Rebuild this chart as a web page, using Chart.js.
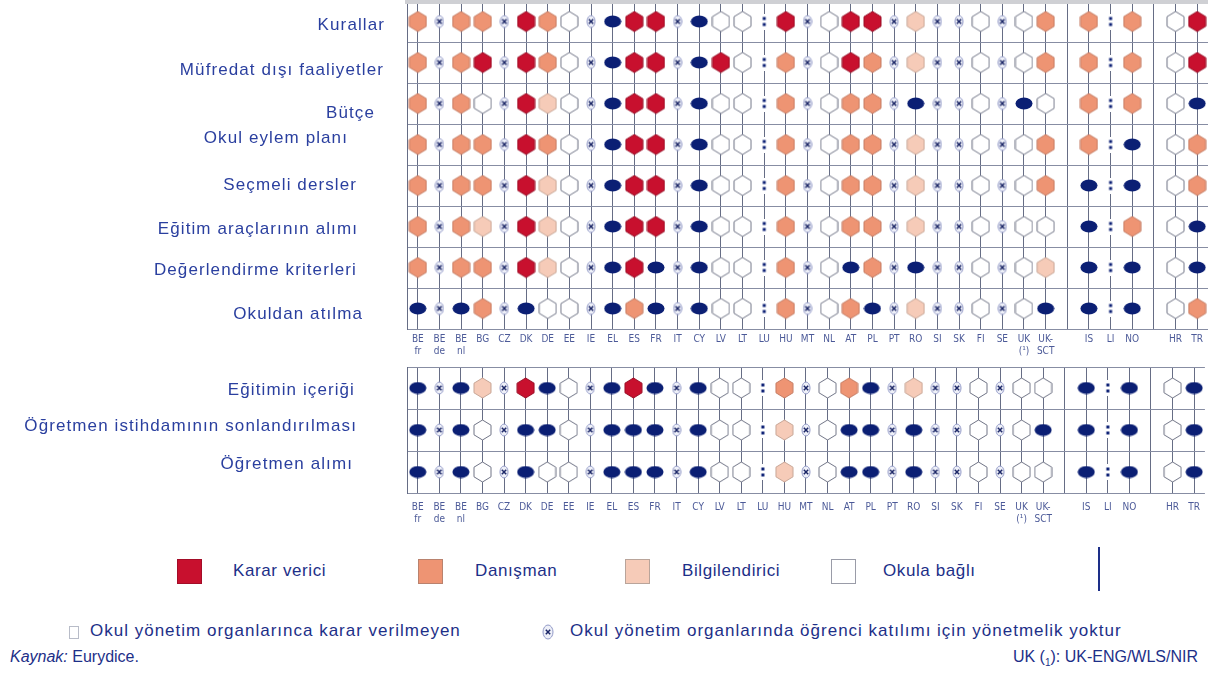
<!DOCTYPE html>
<html lang="tr">
<head>
<meta charset="utf-8">
<script src="https://cdn.jsdelivr.net/npm/chart.js@4.4.1/dist/chart.umd.min.js"></script>
<style>
  body { margin: 0; width: 1208px; height: 680px; background: #fff; position: relative; overflow: hidden;
         font-family: 'Liberation Sans', Arial, sans-serif; color: #1d2f88; }
  canvas { position: absolute; left: 0; }
  #topChart { top: 0; }
  #bottomChart { top: 360px; }
  .band { position: absolute; left: 405px; top: 0; width: 803px; height: 4px; background: #cfd0d4; }
  .sq { position: absolute; top: 559px; width: 25px; height: 25px; box-sizing: border-box; border: 1px solid #999; }
  .txt { position: absolute; font-size: 17px; line-height: 20px; white-space: nowrap; }
  .lg { letter-spacing: 0.6px; }
  .note { letter-spacing: 1px; }
</style>
</head>
<body>
<canvas id="topChart" width="1208" height="360"></canvas>
<canvas id="bottomChart" width="1208" height="175"></canvas>
<div class="band"></div>

<div class="sq" style="left:177px;background:#c8102e;border-color:#a30d28"></div>
<div class="txt lg" style="left:233px;top:561px">Karar verici</div>
<div class="sq" style="left:418px;background:#ee9473;border-color:#b9826e"></div>
<div class="txt lg" style="left:475px;top:561px">Danışman</div>
<div class="sq" style="left:625px;background:#f6cbb8;border-color:#b9a49a"></div>
<div class="txt lg" style="left:682px;top:561px">Bilgilendirici</div>
<div class="sq" style="left:831px;background:#fff;border-color:#9a9ca8"></div>
<div class="txt lg" style="left:883px;top:561px">Okula bağlı</div>
<div style="position:absolute;left:1098px;top:547px;width:2px;height:44px;background:#1d2f88"></div>

<div style="position:absolute;left:69px;top:626px;width:8px;height:11px;border:1px solid #b8bcc8"></div>
<div class="txt note" style="left:90px;top:621px">Okul yönetim organlarınca karar verilmeyen</div>
<canvas id="xIcon" width="12" height="16" style="left:542px;top:624px"></canvas>
<div class="txt note" style="left:570px;top:621px">Okul yönetim organlarında öğrenci katılımı için yönetmelik yoktur</div>

<div class="txt" style="left:10px;top:647px;font-size:16px"><i>Kaynak:</i> Eurydice.</div>
<div class="txt" style="right:10px;top:647px;font-size:16px">UK (<sub style="font-size:10px">1</sub>): UK-ENG/WLS/NIR</div>

<script>
// ülke sütunları (boş olanlar grup aralıkları)
const xTicks = ['BE\nfr', 'BE\nde', 'BE\nnl', 'BG', 'CZ', 'DK', 'DE', 'EE', 'IE', 'EL', 'ES', 'FR',
  'IT', 'CY', 'LV', 'LT', 'LU', 'HU', 'MT', 'NL', 'AT', 'PL', 'PT', 'RO', 'SI', 'SK', 'FI', 'SE',
  'UK\n(¹)', 'UK-\nSCT', '', 'IS', 'LI', 'NO', ' ', 'HR', 'TR'];

const topRows = ['Kurallar', 'Müfredat dışı faaliyetler', 'Bütçe', 'Okul eylem planı',
  'Seçmeli dersler', 'Eğitim araçlarının alımı', 'Değerlendirme kriterleri', 'Okuldan atılma'];
const bottomRows = ['Eğitimin içeriği', 'Öğretmen istihdamının sonlandırılması', 'Öğretmen alımı'];

// D karar verici, C danışman, I bilgilendirici, S okula bağlı,
// N karar verilmeyen, X yönetmelik yok, : veri yok, - boşluk
const kurallar      = ['C','X','C','C','X','D','C','S','X','N','D','D','X','N','S','S',':','D','X','S','D','D','X','I','X','X','S','X','S','C','-','C',':','C','-','S','D'];
const mufredatDisi  = ['C','X','C','D','X','D','C','S','X','N','D','D','X','N','D','S',':','C','X','S','D','C','X','I','X','X','S','X','S','C','-','C',':','C','-','S','D'];
const butce         = ['C','X','C','S','X','D','I','S','X','N','D','D','X','N','S','S',':','C','X','S','C','C','X','N','X','X','S','X','N','S','-','C',':','C','-','S','N'];
const eylemPlani    = ['C','X','C','C','X','D','C','S','X','N','D','D','X','N','S','S',':','C','X','S','C','C','X','I','X','X','S','X','S','C','-','C',':','N','-','S','C'];
const secmeli       = ['C','X','C','C','X','D','I','S','X','N','D','D','X','N','S','S',':','C','X','S','C','C','X','I','X','X','S','X','S','C','-','N',':','N','-','S','C'];
const aracAlimi     = ['C','X','C','I','X','D','I','S','X','N','D','D','X','N','S','S',':','C','X','S','C','C','X','I','X','X','S','X','S','S','-','N',':','C','-','S','N'];
const degerlendirme = ['C','X','C','C','X','D','I','S','X','N','D','N','X','N','S','S',':','C','X','S','N','C','X','N','X','X','S','X','S','I','-','N',':','N','-','S','N'];
const okuldanAtilma = ['N','X','N','C','X','N','S','S','X','N','C','N','X','N','S','S',':','C','X','S','C','N','X','I','X','X','S','X','S','N','-','N',':','N','-','S','C'];

const icerik        = ['N','X','N','I','X','D','N','S','X','N','D','N','X','N','S','S',':','C','X','S','C','N','X','I','X','X','S','X','S','S','-','N',':','N','-','S','N'];
const istihdamSonu  = ['N','X','N','S','X','N','N','S','X','N','N','N','X','N','S','S',':','I','X','S','N','N','X','N','X','X','S','X','S','N','-','N',':','N','-','S','N'];
const ogretmenAlimi = ['N','X','N','S','X','N','S','S','X','N','N','N','X','N','S','S',':','I','X','S','N','N','X','N','X','X','S','X','S','S','-','N',':','N','-','S','N'];

const topData = [kurallar, mufredatDisi, butce, eylemPlani, secmeli, aracAlimi, degerlendirme, okuldanAtilma];
const bottomData = [icerik, istihdamSonu, ogretmenAlimi];

const NAVY = '#0b1f74';

function hexIcon(fill, stroke) {
    const c = document.createElement('canvas');
    c.width = 19; c.height = 22;
    const g = c.getContext('2d');
    const w = 17, h = 20, o = 1;
    g.beginPath();
    g.moveTo(o + w / 2, o);
    g.lineTo(o + w, o + h * 0.26);
    g.lineTo(o + w, o + h * 0.74);
    g.lineTo(o + w / 2, o + h);
    g.lineTo(o, o + h * 0.74);
    g.lineTo(o, o + h * 0.26);
    g.closePath();
    g.fillStyle = fill;
    g.fill();
    g.lineWidth = 1;
    g.lineJoin = 'round';
    g.strokeStyle = stroke;
    g.stroke();
    return c;
}

function ovalIcon() {
    const c = document.createElement('canvas');
    c.width = 18; c.height = 13;
    const g = c.getContext('2d');
    g.beginPath();
    g.ellipse(9, 6.5, 8.5, 6, 0, 0, Math.PI * 2);
    g.fillStyle = NAVY;
    g.fill();
    return c;
}

function drawCross(c) {
    const g = c.getContext('2d');
    const cx = c.width / 2, cy = c.height / 2;
    g.beginPath();
    g.ellipse(cx, cy, cx - 1, cy - 1, 0, 0, Math.PI * 2);
    g.fillStyle = '#eef0f8';
    g.fill();
    g.strokeStyle = '#9098c6';
    g.lineWidth = 1;
    g.stroke();
    g.beginPath();
    g.moveTo(cx - 2.2, cy - 2.2); g.lineTo(cx + 2.2, cy + 2.2);
    g.moveTo(cx + 2.2, cy - 2.2); g.lineTo(cx - 2.2, cy + 2.2);
    g.strokeStyle = '#1a2566';
    g.lineWidth = 1.5;
    g.stroke();
    return c;
}

function crossIcon() {
    const c = document.createElement('canvas');
    c.width = 10; c.height = 14;
    return drawCross(c);
}

function colonIcon() {
    const c = document.createElement('canvas');
    c.width = 6; c.height = 16;
    const g = c.getContext('2d');
    g.fillStyle = '#fff';
    g.fillRect(0, 0, 6, 16);
    g.fillStyle = NAVY;
    g.fillRect(1.5, 3.5, 3, 3);
    g.fillRect(1.5, 9.5, 3, 3);
    return c;
}

const symbols = {
    'S': hexIcon('#ffffff', '#707486'),
    'I': hexIcon('#f6cbb8', '#c7a595'),
    'C': hexIcon('#ee9473', '#c47b62'),
    'D': hexIcon('#c8102e', '#980c24'),
    'N': ovalIcon(),
    'X': crossIcon(),
    ':': colonIcon()
};

function buildDatasets(rows, rowLabels) {
    return Object.keys(symbols).map(code => ({
        label: code,
        data: rows.flatMap((r, yi) => r.map((c, xi) => c === code ? { x: xTicks[xi], y: rowLabels[yi] } : null)
            .filter(p => p)),
        pointStyle: symbols[code],
        pointRadius: 9,
        pointHoverRadius: 9
    }));
}

// satır etiketleri: sağ kenar ve dikey kayma
function rowLabelPlugin(rightX, dy) {
    return {
        id: 'rowLabels',
        afterDraw(chart) {
            const ctx = chart.ctx;
            const y = chart.scales.y;
            ctx.save();
            ctx.font = '17px "Liberation Sans", Arial, sans-serif';
            ctx.letterSpacing = '1.1px';
            ctx.fillStyle = '#2a3f9f';
            ctx.textAlign = 'right';
            ctx.textBaseline = 'middle';
            y.getLabels().forEach((lab, i) => {
                ctx.fillText(lab, rightX[i], y.getPixelForValue(i) + dy[i]);
            });
            ctx.restore();
        }
    };
}

function makeChart(id, rowLabels, rows, padTop, axisH, tickPad, rightX, dy) {
    return new Chart(document.getElementById(id), {
        type: 'scatter',
        data: { datasets: buildDatasets(rows, rowLabels) },
        options: {
            responsive: false,
            animation: false,
            layout: { autoPadding: false, padding: { top: padTop, right: 0, left: 0, bottom: 0 } },
            plugins: { legend: { display: false }, tooltip: { enabled: false } },
            scales: {
                x: {
                    type: 'category',
                    labels: xTicks,
                    offset: true,
                    grid: { color: '#666d85', lineWidth: 1, drawTicks: false, offset: false },
                    border: { display: false },
                    ticks: {
                        autoSkip: false, maxRotation: 0, minRotation: 0, padding: tickPad,
                        color: '#4c5a98',
                        font: { family: '"Liberation Sans Narrow", "DejaVu Sans Condensed", sans-serif', size: 10 },
                        callback(v) { return this.getLabelForValue(v).split('\n'); }
                    },
                    afterFit(s) { s.height = axisH; }
                },
                y: {
                    type: 'category',
                    labels: rowLabels,
                    offset: true,
                    grid: { color: '#878da3', lineWidth: 1, drawTicks: false, offset: true },
                    border: { color: '#666d85' },
                    ticks: { display: false },
                    afterFit(s) { s.width = 407; }
                }
            }
        },
        plugins: [rowLabelPlugin(rightX, dy)]
    });
}

makeChart('topChart', topRows, topData, 1, 31, 4,
    [385, 384, 375, 348, 357, 358, 357, 363],
    [4, 8, 10, -6, 0, 3, 3, 6]);

makeChart('bottomChart', bottomRows, bottomData, 7, 42, 8,
    [355, 357, 353],
    [2, -4, -8]);

drawCross(document.getElementById('xIcon'));
</script>
</body>
</html>
